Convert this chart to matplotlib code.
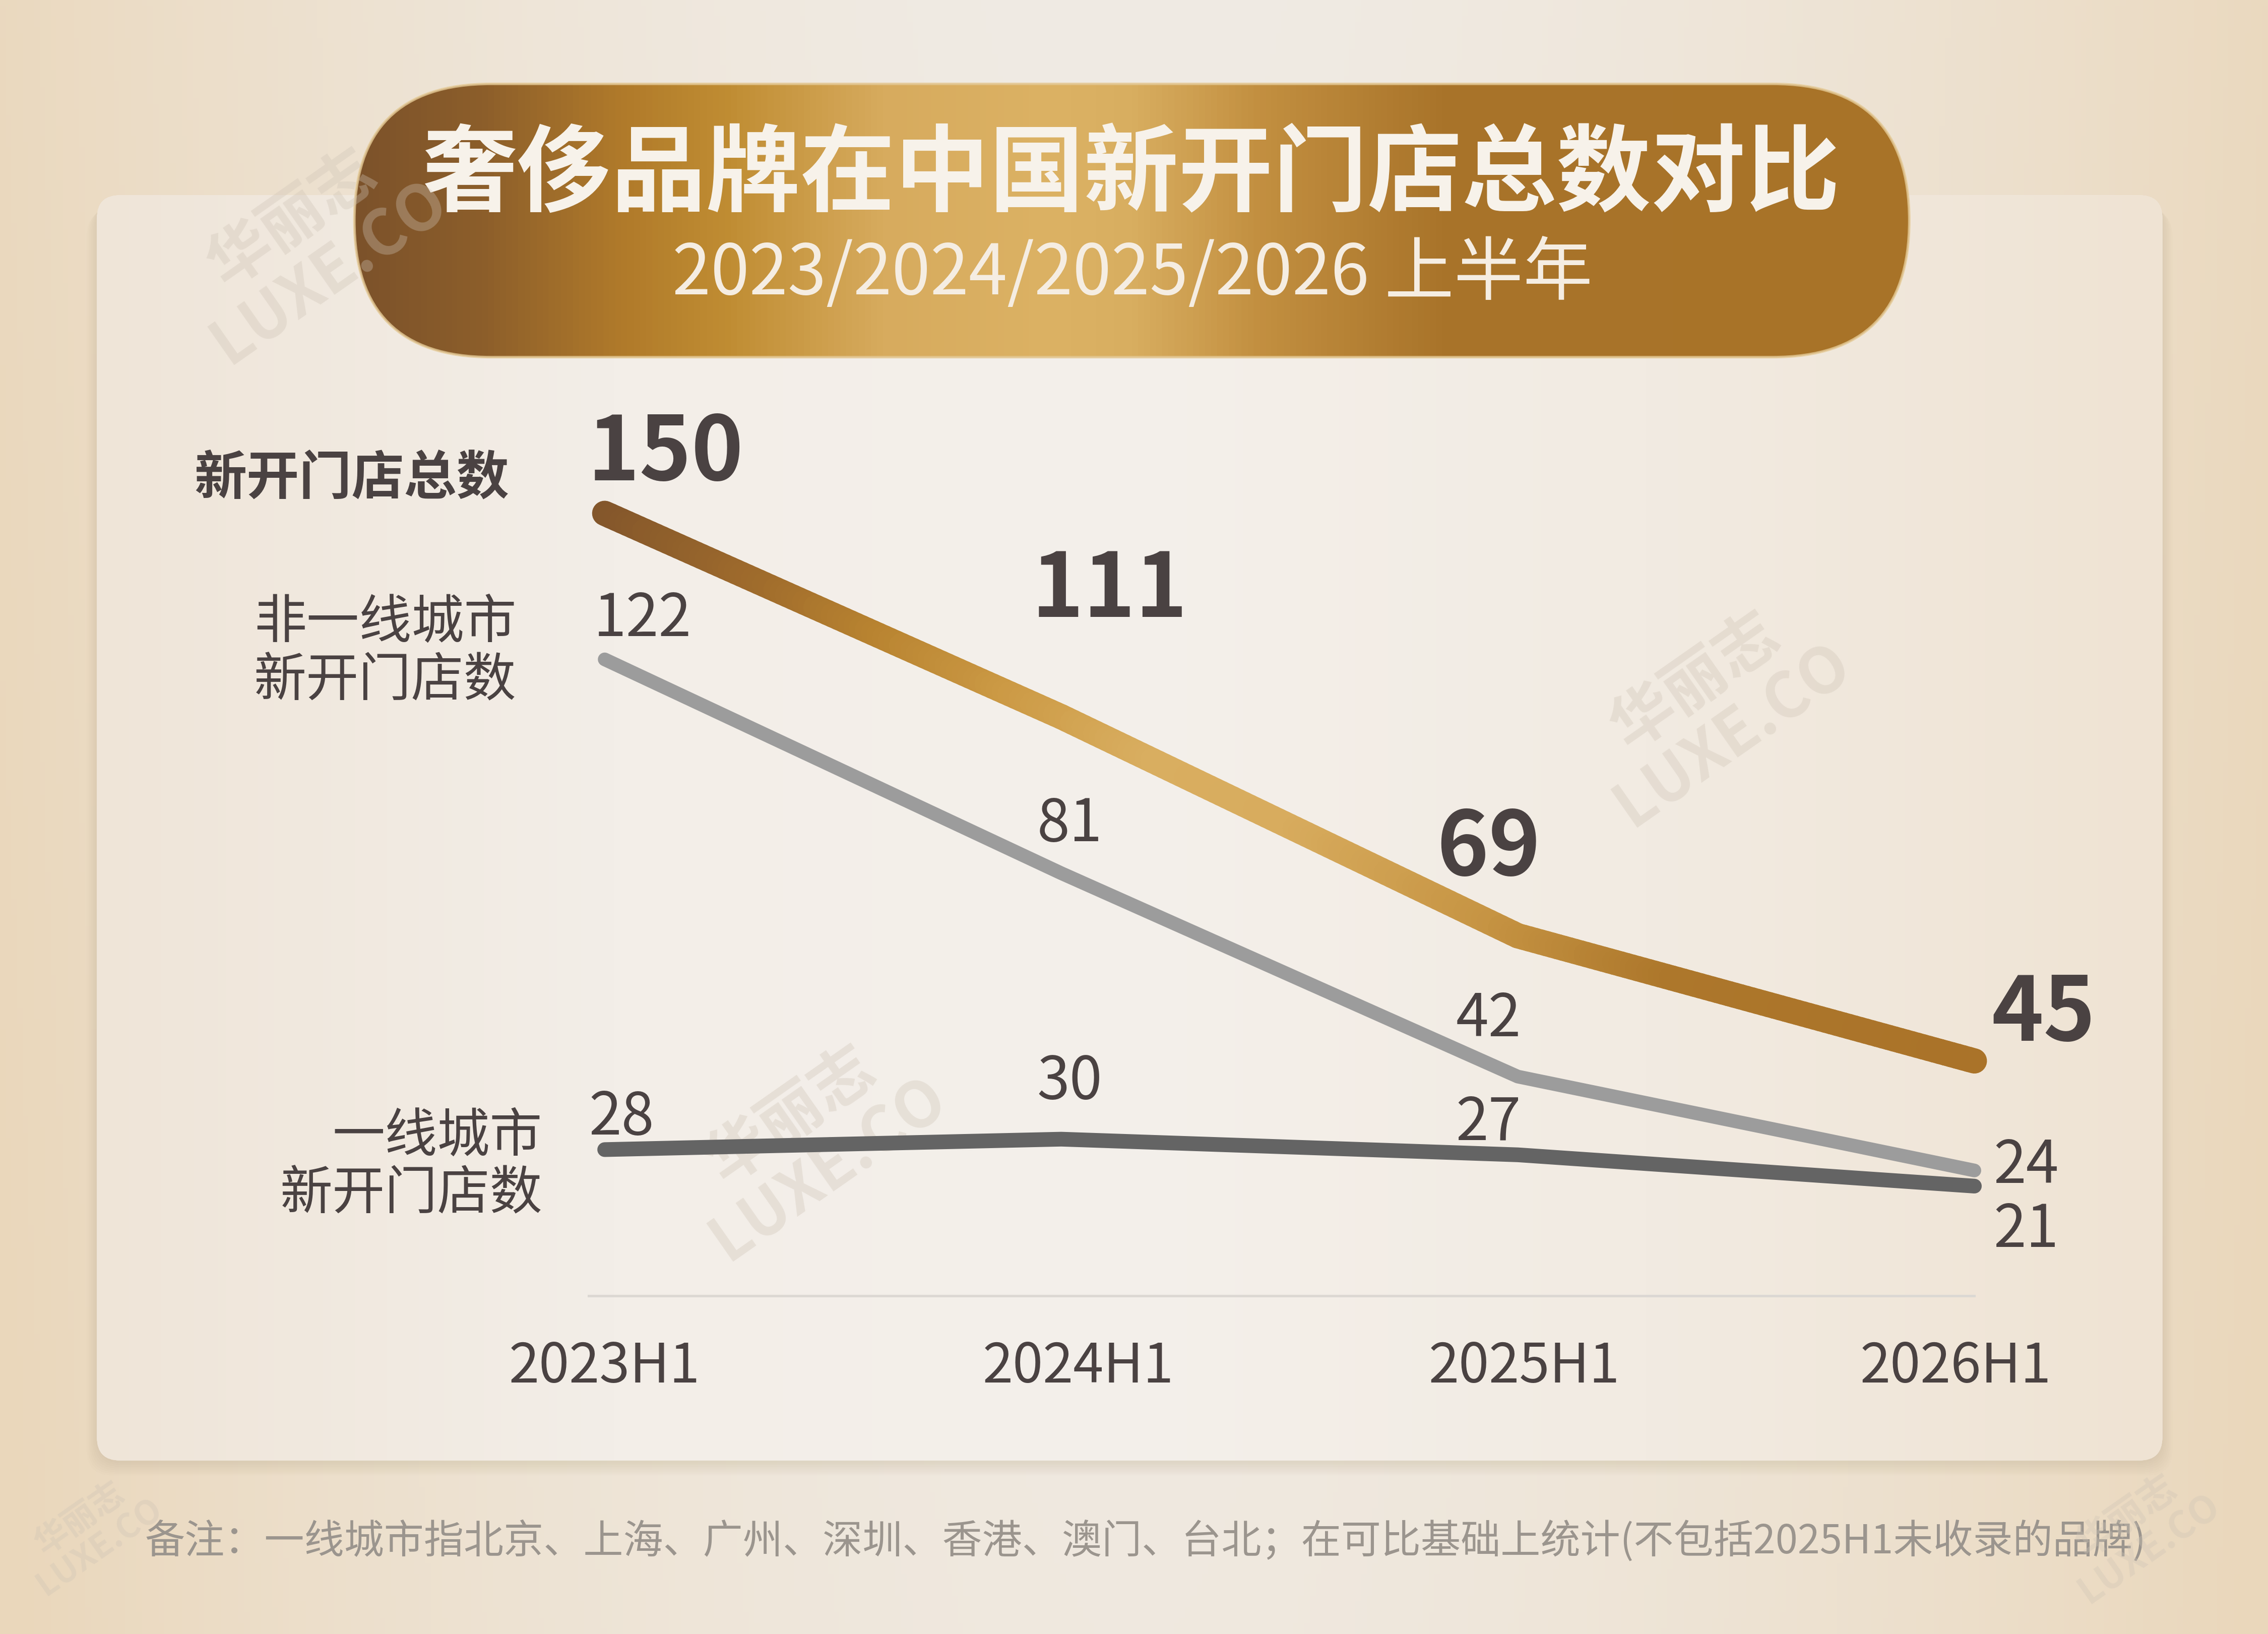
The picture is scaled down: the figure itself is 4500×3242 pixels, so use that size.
import numpy as np
import matplotlib
matplotlib.use("Agg")
import matplotlib.pyplot as plt
from matplotlib.patches import FancyBboxPatch
from matplotlib.collections import LineCollection
from matplotlib.colors import LinearSegmentedColormap, to_rgb

plt.rcParams['font.family'] = ['Noto Sans CJK SC', 'DejaVu Sans']

# data
periods = ['2023H1', '2024H1', '2025H1', '2026H1']
total = [150, 111, 69, 45]
non_tier1 = [122, 81, 42, 24]
tier1 = [28, 30, 27, 21]

title = '奢侈品牌在中国新开门店总数对比'
subtitle = '2023/2024/2025/2026 上半年'
note = '备注：一线城市指北京、上海、广州、深圳、香港、澳门、台北；在可比基础上统计(不包括2025H1未收录的品牌)'

TXT = '#4a4242'
W, H = 1568, 1130   # layout grid, same aspect as the output

fig = plt.figure(figsize=(15, 15 * 3242 / 4500), dpi=300)

# background layer (layout coordinates, y down)
bg = fig.add_axes([0, 0, 1, 1])
bg.set_xlim(0, W)
bg.set_ylim(H, 0)
bg.axis('off')

# page gradient: warm edges, pale centre
gx = np.linspace(-1, 1, 400)
gy = np.linspace(0, 1, 300)
X, Y = np.meshgrid(gx, gy)
f = np.clip(np.abs(X) ** 1.8 * 0.9 + 0.12 * Y, 0, 1)[..., None]
c_mid = np.array(to_rgb('#f0ebe4'))
c_edge = np.array(to_rgb('#ead7bb'))
bg.imshow(c_mid * (1 - f) + c_edge * f, extent=[0, W, H, 0], aspect='auto', zorder=0)

# card shadow + card
for k in range(8):
    sh = FancyBboxPatch((67 - k, 135 + 2 + k * 1.2), 1428 + 2 * k, 875, boxstyle='round,pad=0,rounding_size=18',
                        facecolor='#a88e6c', edgecolor='none', alpha=0.025, zorder=1)
    bg.add_patch(sh)
card = FancyBboxPatch((67, 135), 1428, 875, boxstyle='round,pad=0,rounding_size=16',
                      facecolor='#f3eee8', edgecolor='none', zorder=2)
bg.add_patch(card)
card_cmap = LinearSegmentedColormap.from_list('card', ['#efe5d8', '#f3eee8', '#f4f0eb', '#f2ebe2', '#efe3d3'])
im = bg.imshow(card_cmap(np.linspace(0, 1, 512))[None, :, :], extent=[67, 1495, 1010, 135],
               aspect='auto', zorder=2)
im.set_clip_path(card)

# title pill
pill = FancyBboxPatch((245, 58), 1075, 189, boxstyle='round,pad=0,rounding_size=94.5',
                      facecolor='#b07a2c', edgecolor='none', zorder=5)
bg.add_patch(pill)
pill_cmap = LinearSegmentedColormap.from_list('pill', [
    (0.0, '#7c522a'), (0.08, '#8c5e2b'), (0.17, '#b07a2a'), (0.24, '#c08d33'),
    (0.34, '#d7ab5e'), (0.45, '#dcb264'), (0.50, '#d8ae60'), (0.58, '#c39041'),
    (0.70, '#a9742a'), (1.0, '#a87328')])
im2 = bg.imshow(pill_cmap(np.linspace(0, 1, 512))[None, :, :], extent=[245, 1320, 247, 58],
                aspect='auto', zorder=5)
im2.set_clip_path(pill)
bg.add_patch(FancyBboxPatch((245, 58), 1075, 189, boxstyle='round,pad=0,rounding_size=94.5',
                            facecolor='none', edgecolor='#e4c995', linewidth=1.2, alpha=0.8, zorder=6))

bg.text(782, 122, title, ha='center', va='center', fontsize=45, fontweight='bold', color='#f7f2ea', zorder=7)
bg.text(783, 190, subtitle, ha='center', va='center', fontsize=33, color='#f5ede2', zorder=7)

# watermarks
for wx, wy, sz in [(215, 170, 30), (1185, 490, 30), (560, 790, 30), (1478, 1060, 18), (62, 1060, 16)]:
    bg.text(wx, wy, '华丽志\nLUXE.CO', ha='center', va='center', rotation=35, fontsize=sz,
            fontweight='bold', color='#cfc4b6', alpha=0.35, linespacing=1.0, zorder=8)

# series names on the left
bg.text(352, 331, '新开门店总数', ha='right', va='center', fontsize=25, fontweight='bold', color=TXT, zorder=7)
bg.text(357, 431, '非一线城市', ha='right', va='center', fontsize=25, color=TXT, zorder=7)
bg.text(357, 471, '新开门店数', ha='right', va='center', fontsize=25, color=TXT, zorder=7)
bg.text(375, 786, '一线城市', ha='right', va='center', fontsize=25, color=TXT, zorder=7)
bg.text(375, 826, '新开门店数', ha='right', va='center', fontsize=25, color=TXT, zorder=7)

bg.text(792, 1066, note, ha='center', va='center', fontsize=19, color='#9b958e', zorder=7)

# chart axes
ax = fig.add_axes([407 / W, 1 - 896 / H, (1365 - 407) / W, (896 - 355) / H])
ax.set_xlim(-0.035, 3)
ax.set_ylim(0, 150)
ax.patch.set_alpha(0)
for s in ['top', 'right', 'left']:
    ax.spines[s].set_visible(False)
ax.spines['bottom'].set_color('#dcd8d3')
ax.spines['bottom'].set_linewidth(1.2)
ax.set_yticks([])
xs = np.arange(len(periods))
ax.set_xticks(xs, [])
ax.tick_params(axis='x', length=0)

# period labels under the baseline
tick_dx = [0, 8, 3, -9]
for i, p in enumerate(periods):
    ax.annotate(p, (xs[i], 0), xytext=(tick_dx[i], -34), textcoords='offset points', ha='center',
                va='center', fontsize=26, color=TXT, annotation_clip=False)

ax.plot(xs, tier1, color='#646464', lw=7, solid_capstyle='round', solid_joinstyle='round',
        zorder=3, clip_on=False)
ax.plot(xs, non_tier1, color='#9c9c9c', lw=6.5, solid_capstyle='round', solid_joinstyle='round',
        zorder=3, clip_on=False)

# total line with gold gradient along x (segments split only for colouring)
pts = []
for i in range(len(xs) - 1):
    t = np.linspace(0, 1, 80, endpoint=False)
    pts.append(np.column_stack([xs[i] + t * (xs[i + 1] - xs[i]),
                                total[i] + t * (total[i + 1] - total[i])]))
pts.append([[xs[-1], total[-1]]])
pts = np.vstack(pts)
segs = np.stack([pts[:-1], pts[1:]], axis=1)
gold = LinearSegmentedColormap.from_list('gold', [
    (0.0, '#83562b'), (0.12, '#a06c2c'), (0.2, '#b88330'), (0.3, '#cc9a45'),
    (0.4, '#d9ae60'), (0.5, '#d8ac5e'), (0.65, '#c69443'), (0.78, '#ad772b'), (1.0, '#aa7329')])
lc = LineCollection(segs, cmap=gold, linewidths=12, capstyle='round', joinstyle='round',
                    zorder=4, clip_on=False)
lc.set_array((segs[:, 0, 0] + segs[:, 1, 0]) / 2)
lc.set_clim(0, 3)
ax.add_collection(lc)

# value labels
big_off = [(29, 28), (23, 60), (-14, 41), (33, 22)]
for i, v in enumerate(total):
    ax.annotate(str(v), (xs[i], v), xytext=big_off[i], textcoords='offset points', ha='center',
                va='center', fontsize=42, fontweight='bold', color=TXT, annotation_clip=False)
mid_off = [(18, 19), (4, 23), (-14, 27), (9, 2)]
for i, v in enumerate(non_tier1):
    ax.annotate(str(v), (xs[i], v), xytext=mid_off[i], textcoords='offset points',
                ha='left' if i == 3 else 'center', va='center', fontsize=28, color=TXT,
                annotation_clip=False)
low_off = [(8, 15), (4, 27), (-14, 15), (9, -21)]
for i, v in enumerate(tier1):
    ax.annotate(str(v), (xs[i], v), xytext=low_off[i], textcoords='offset points',
                ha='left' if i == 3 else 'center', va='center', fontsize=28, color=TXT,
                annotation_clip=False)

fig.savefig('out.png', dpi=300)
